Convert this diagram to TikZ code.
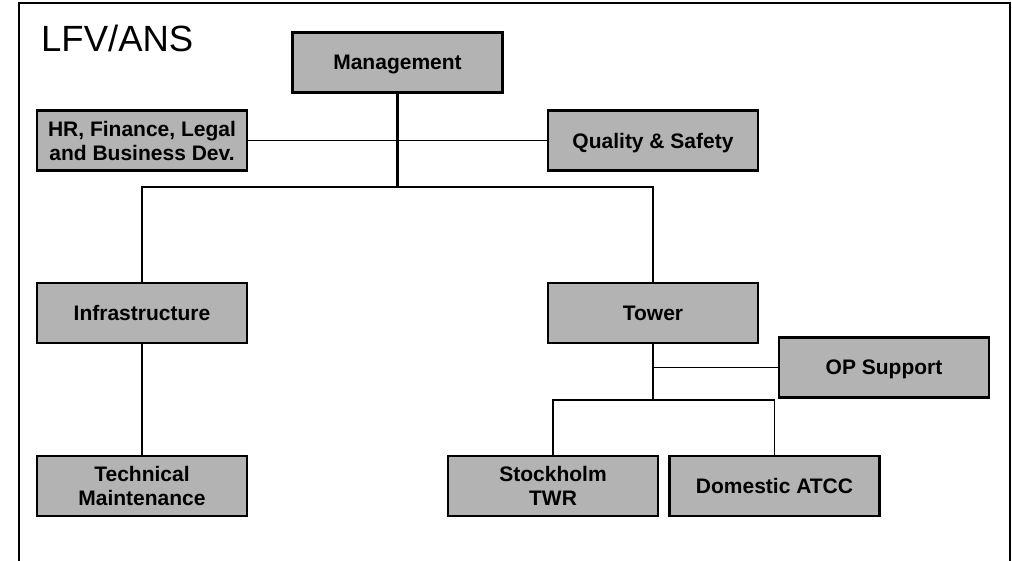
\documentclass[tikz,border=0pt]{standalone}
\usepackage{fontspec}
\setmainfont{Liberation Sans}
\definecolor{boxgray}{RGB}{179,179,179}
\begin{document}
\begin{tikzpicture}[x=1pt,y=-1pt,
  unit/.style={draw=black, line width=2.2pt, fill=boxgray,
    minimum width=210pt, minimum height=60pt, inner sep=0pt,
    text depth=0pt, align=center,
    font=\bfseries\fontsize{21}{24}\selectfont},
  trunk/.style={line width=2.4pt},
  link/.style={line width=1.7pt},
  thin link/.style={line width=1.3pt}]
  \useasboundingbox (0,0) rectangle (1012,560);

  % outer frame, open at the bottom
  \draw[line width=2.2pt] (19,570) |- (1010,3) -- (1010,570);

  % title
  \node[anchor=base west, inner sep=0pt, font=\fontsize{36.5}{40}\selectfont] (title) at (41,51.7) {LFV/ANS};

  % units
  \node[unit] (mgmt)  at (397.5,62.5) {Management};
  \node[unit] (hr)    at (142,140.5)  {HR, Finance, Legal\\and Business Dev.};
  \node[unit] (qs)    at (653,140.5)  {Quality \& Safety};
  \node[unit] (infra) at (142,313)    {Infrastructure};
  \node[unit] (tower) at (653,313)    {Tower};
  \node[unit] (tech)  at (142,486)    {Technical\\Maintenance};
  \node[unit] (op)    at (884,367.5)  {OP Support};
  \node[unit] (sth)   at (553,486)    {Stockholm\\TWR};
  \node[unit] (dom)   at (774.5,486)  {Domestic ATCC};

  % junction points
  \coordinate (upper) at (397.5,187);
  \coordinate (lower) at (653,400);

  % connectors
  \draw[thin link] (hr.east) -- (qs.west);
  \draw[trunk] (mgmt.south) -- (upper);
  \draw[trunk] (infra.north) -- (infra.north |- upper) -- (tower.north |- upper) -- (tower.north);
  \draw[link] (infra.south) -- (tech.north);
  \draw[trunk] (tower.south) -- (lower);
  \draw[link] (tower.south |- op.west) -- (op.west);
  \draw[link] (sth.north) -- (sth.north |- lower) -- (dom.north |- lower) -- (dom.north);
\end{tikzpicture}
\end{document}
